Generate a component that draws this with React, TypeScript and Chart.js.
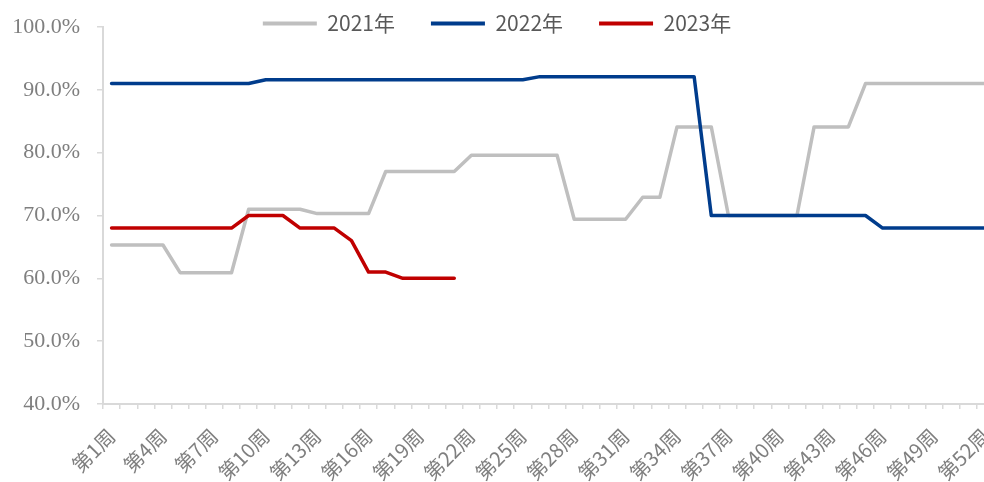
import React, { useEffect, useRef } from "react";
import { Chart, registerables } from "chart.js";

Chart.register(...registerables);

const weeks: string[] = [
  "第1周", "第2周", "第3周", "第4周", "第5周", "第6周", "第7周", "第8周", "第9周", "第10周",
  "第11周", "第12周", "第13周", "第14周", "第15周", "第16周", "第17周", "第18周", "第19周", "第20周",
  "第21周", "第22周", "第23周", "第24周", "第25周", "第26周", "第27周", "第28周", "第29周", "第30周",
  "第31周", "第32周", "第33周", "第34周", "第35周", "第36周", "第37周", "第38周", "第39周", "第40周",
  "第41周", "第42周", "第43周", "第44周", "第45周", "第46周", "第47周", "第48周", "第49周", "第50周",
  "第51周", "第52周",
];

const seriesNames: string[] = ["2021年", "2022年", "2023年"];

const values2021: number[] = [
  65.3, 65.3, 65.3, 65.3, 60.9, 60.9, 60.9, 60.9, 71.0, 71.0,
  71.0, 71.0, 70.3, 70.3, 70.3, 70.3, 77.0, 77.0, 77.0, 77.0,
  77.0, 79.6, 79.6, 79.6, 79.6, 79.6, 79.6, 69.4, 69.4, 69.4,
  69.4, 72.9, 72.9, 84.1, 84.1, 84.1, 70.0, 70.0, 70.0, 70.0,
  70.0, 84.1, 84.1, 84.1, 91.0, 91.0, 91.0, 91.0, 91.0, 91.0,
  91.0, 91.0,
];

const values2022: number[] = [
  91.0, 91.0, 91.0, 91.0, 91.0, 91.0, 91.0, 91.0, 91.0, 91.6,
  91.6, 91.6, 91.6, 91.6, 91.6, 91.6, 91.6, 91.6, 91.6, 91.6,
  91.6, 91.6, 91.6, 91.6, 91.6, 92.1, 92.1, 92.1, 92.1, 92.1,
  92.1, 92.1, 92.1, 92.1, 92.1, 70.0, 70.0, 70.0, 70.0, 70.0,
  70.0, 70.0, 70.0, 70.0, 70.0, 68.0, 68.0, 68.0, 68.0, 68.0,
  68.0, 68.0,
];

const values2023: number[] = [
  68.0, 68.0, 68.0, 68.0, 68.0, 68.0, 68.0, 68.0, 70.0, 70.0,
  70.0, 68.0, 68.0, 68.0, 66.0, 61.0, 61.0, 60.0, 60.0, 60.0,
  60.0,
];

const yTicks: number[] = [40, 50, 60, 70, 80, 90, 100];

const colors: string[] = ["#bfbfbf", "#003c8c", "#c00000"];

// lets the legend overlap the top of the plot (as in the reference) without being clipped
const legendUnclip = {
  id: "legendUnclip",
  afterLayout(chart: any) {
    const lg = chart.legend;
    if (lg) {
      lg.bottom = lg.top + 90;
      lg.height = 90;
    }
  },
};

export default function App() {
  const ref = useRef<HTMLCanvasElement | null>(null);

  useEffect(() => {
    if (!ref.current) return;
    const sans = "'Noto Sans CJK SC', 'Noto Sans', sans-serif";
    const chart = new Chart(ref.current, {
      type: "line",
      plugins: [legendUnclip],
      data: {
        labels: weeks,
        datasets: [
          { label: seriesNames[0], data: values2021, borderColor: colors[0], backgroundColor: colors[0], order: 3 },
          { label: seriesNames[1], data: values2022, borderColor: colors[1], backgroundColor: colors[1], order: 1 },
          { label: seriesNames[2], data: values2023, borderColor: colors[2], backgroundColor: colors[2], order: 2 },
        ].map((d) => ({
          ...d,
          borderWidth: 3.5,
          pointRadius: 0,
          pointHoverRadius: 0,
          tension: 0,
          fill: false,
          borderJoinStyle: "round" as const,
          borderCapStyle: "round" as const,
        })),
      },
      options: {
        responsive: false,
        animation: false,
        layout: { padding: { top: -23, right: 6, bottom: 0, left: 0 } },
        plugins: {
          tooltip: { enabled: false },
          legend: {
            position: "top",
            maxHeight: 50,
            labels: {
              boxWidth: 54,
              boxHeight: 4,
              padding: 36,
              color: "#595959",
              font: { family: sans, size: 21 },
              generateLabels: (c: any) =>
                c.data.datasets.map((ds: any, i: number) => ({
                  text: ds.label,
                  fillStyle: ds.borderColor,
                  strokeStyle: ds.borderColor,
                  lineWidth: 0,
                  hidden: false,
                  datasetIndex: i,
                  fontColor: "#595959",
                })),
            },
          },
        },
        scales: {
          x: {
            type: "category",
            offset: true,
            afterFit: (s: any) => {
              s.height = 78;
              s.paddingLeft = 0;
              s.paddingRight = 0;
            },
            grid: {
              offset: true,
              drawOnChartArea: false,
              drawTicks: true,
              tickLength: 5,
              color: "#d9d9d9",
              lineWidth: 1.5,
            },
            border: { display: true, color: "#d9d9d9", width: 2 },
            ticks: {
              autoSkip: false,
              minRotation: 45,
              maxRotation: 45,
              padding: 15,
              color: "#7f7f7f",
              font: { family: sans, size: 20 },
              callback: (_v: any, i: number) => (i % 3 === 0 ? weeks[i] : ""),
            },
          },
          y: {
            min: yTicks[0],
            max: yTicks[yTicks.length - 1],
            afterFit: (s: any) => {
              s.width = 103;
              s.paddingTop = 0;
              s.paddingBottom = 0;
            },
            afterBuildTicks: (s: any) => {
              s.ticks = yTicks.map((v) => ({ value: v }));
            },
            grid: {
              drawOnChartArea: false,
              drawTicks: true,
              tickLength: 6,
              color: "#d9d9d9",
              lineWidth: 1.5,
            },
            border: { display: true, color: "#d9d9d9", width: 2 },
            ticks: {
              padding: 17,
              color: "#7f7f7f",
              font: { family: "'Liberation Serif', serif", size: 22 },
              callback: (v: any) => Number(v).toFixed(1) + "%",
            },
          },
        },
      },
    });
    return () => chart.destroy();
  }, []);

  return (
    <div
      style={{
        position: "fixed",
        left: 0,
        top: 0,
        width: 984,
        height: 482,
        overflow: "hidden",
        background: "#ffffff",
      }}
    >
      <canvas ref={ref} width={1000} height={482} style={{ display: "block", width: 1000, height: 482 }} />
    </div>
  );
}
